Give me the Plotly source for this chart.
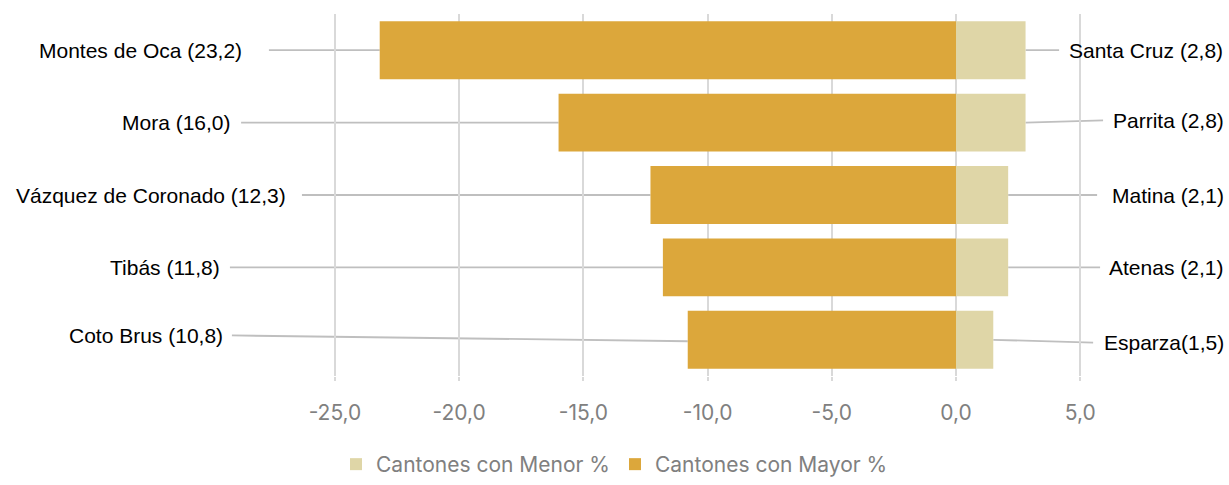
import plotly.graph_objects as go

# data
mayor_names = ["Montes de Oca (23,2)", "Mora (16,0)", "Vázquez de Coronado (12,3)",
               "Tibás (11,8)", "Coto Brus (10,8)"]
mayor_vals = [23.2, 16.0, 12.3, 11.8, 10.8]
menor_names = ["Santa Cruz (2,8)", "Parrita (2,8)", "Matina (2,1)",
               "Atenas (2,1)", "Esparza(1,5)"]
menor_vals = [2.8, 2.8, 2.1, 2.1, 1.5]
tick_vals = [-25, -20, -15, -10, -5, 0, 5]
tick_text = ["-25,0", "-20,0", "-15,0", "-10,0", "-5,0", "0,0", "5,0"]

rows = list(range(len(mayor_vals)))

# label placement (axis units)
left_text_x = [-28.70, -29.15, -26.93, -29.59, -29.47]
left_line_x = [-27.66, -28.78, -26.33, -29.23, -29.15]
left_text_dy = [0.0, 0.0, 0.0, 0.0, -0.06]
right_text_x = [4.51, 6.28, 6.24, 6.12, 5.92]
right_line_x = [4.15, 5.92, 5.68, 5.80, 5.52]
right_text_dy = [0.0, -0.03, 0.0, 0.0, 0.04]

MAYOR = "#DCA73B"
MENOR = "#DFD6A7"
LINE = "#BFBFBF"

fig = go.Figure()
fig.add_bar(y=rows, x=menor_vals, orientation="h", name="Cantones con Menor %",
            marker=dict(color=MENOR, line=dict(width=0)), width=0.8)
fig.add_bar(y=rows, x=[-v for v in mayor_vals], orientation="h", name="Cantones con Mayor %",
            marker=dict(color=MAYOR, line=dict(width=0)), width=0.8)

shapes = []
annotations = []
for i in rows:
    shapes.append(dict(type="line", xref="x", yref="y",
                       x0=left_line_x[i], y0=i + left_text_dy[i],
                       x1=-mayor_vals[i], y1=i + (0.02 if left_text_dy[i] else 0),
                       line=dict(color=LINE, width=1.8), layer="below"))
    shapes.append(dict(type="line", xref="x", yref="y",
                       x0=menor_vals[i], y0=i,
                       x1=right_line_x[i], y1=i + right_text_dy[i],
                       line=dict(color=LINE, width=1.8), layer="below"))
    annotations.append(dict(x=left_text_x[i], y=i + left_text_dy[i], xref="x", yref="y",
                            text=mayor_names[i], showarrow=False, xanchor="right",
                            yanchor="middle", borderpad=0,
                            font=dict(family="Liberation Sans, Arial", size=21, color="#000000")))
    annotations.append(dict(x=right_text_x[i], y=i + right_text_dy[i], xref="x", yref="y",
                            text=menor_names[i], showarrow=False, xanchor="left",
                            yanchor="middle", borderpad=0,
                            font=dict(family="Liberation Sans, Arial", size=21, color="#000000")))

fig.update_layout(
    width=1229, height=485,
    margin=dict(l=0, r=0, t=14, b=103),
    paper_bgcolor="white", plot_bgcolor="white",
    barmode="overlay",
    showlegend=True,
    legend=dict(orientation="h", x=0.5, xanchor="center", y=-0.245, yanchor="middle",
                font=dict(family="Inter", size=21, color="#808080"),
                traceorder="normal", itemwidth=30),
    shapes=shapes,
    annotations=annotations,
    xaxis=dict(range=[-38.486, 10.99], tickvals=tick_vals, ticktext=tick_text,
               showgrid=True, gridcolor="#D9D9D9", gridwidth=1.5, zeroline=False,
               ticks="outside", ticklen=4, tickcolor="#D9D9D9", tickwidth=1.5,
               ticklabelstandoff=14,
               tickfont=dict(family="Inter", size=21, color="#808080"),
               showline=False, fixedrange=True),
    yaxis=dict(range=[4.5, -0.5], showticklabels=False, showgrid=False,
               zeroline=False, showline=False, fixedrange=True),
)

fig.write_html("out.html", config={"displayModeBar": False},
               post_script="document.body.style.margin='0';document.body.style.overflow='hidden';")
